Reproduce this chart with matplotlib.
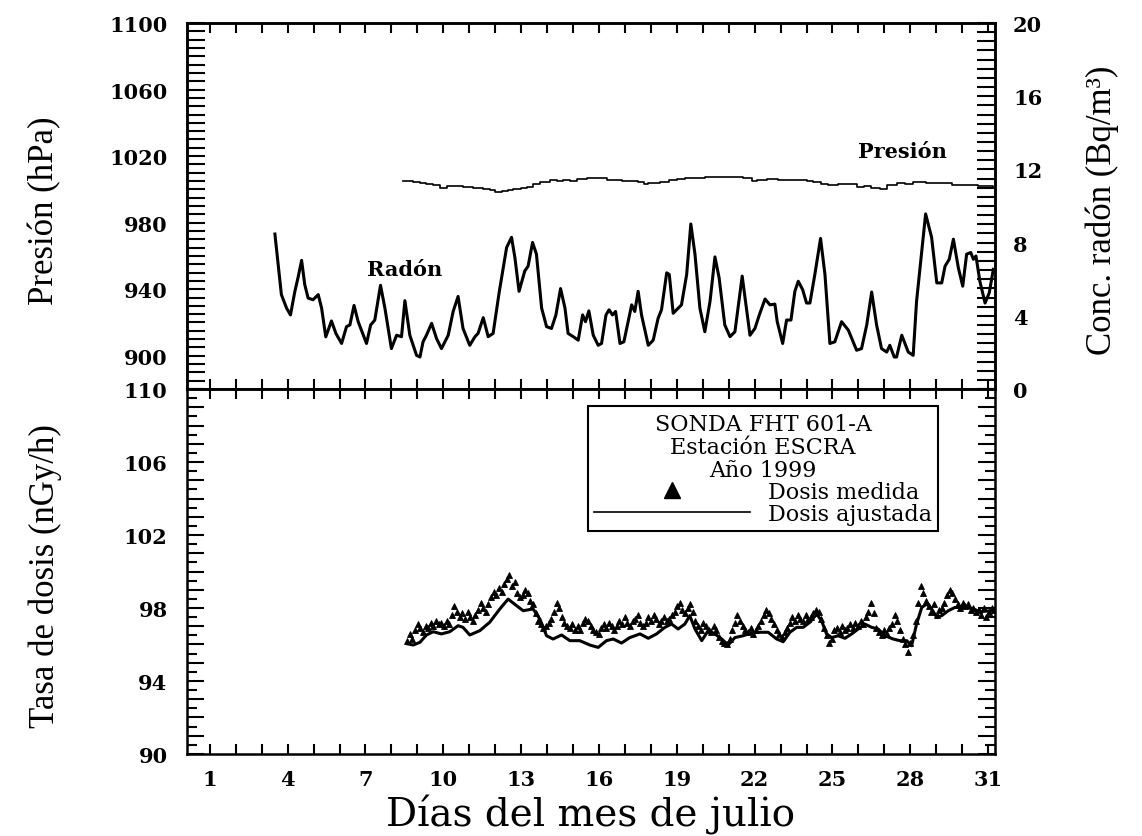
import matplotlib
matplotlib.use('Agg')
import matplotlib.pyplot as plt
from matplotlib.ticker import MultipleLocator, FuncFormatter
from matplotlib.lines import Line2D
import numpy as np

# Radon concentration (Bq/m3), right axis of the upper panel
radon_day = [3.51, 3.76, 3.96, 4.11, 4.28, 4.40, 4.54, 4.66, 4.79, 4.98,
             5.18, 5.31, 5.47, 5.69, 5.86, 6.08, 6.27, 6.40, 6.56, 6.72,
             7.04, 7.20, 7.36, 7.58, 7.75, 8.00, 8.20, 8.39, 8.52, 8.71,
             8.97, 9.10, 9.22, 9.35, 9.55, 9.74, 9.93, 10.19, 10.38, 10.57,
             10.76, 11.02, 11.22, 11.34, 11.54, 11.73, 11.92, 12.15, 12.44, 12.63,
             12.76, 12.92, 13.14, 13.27, 13.44, 13.59, 13.79, 13.98, 14.17, 14.34,
             14.52, 14.69, 14.81, 15.01, 15.20, 15.37, 15.48, 15.61, 15.78, 15.97,
             16.10, 16.27, 16.39, 16.52, 16.64, 16.81, 16.96, 17.26, 17.38, 17.51,
             17.64, 17.90, 18.09, 18.28, 18.41, 18.61, 18.71, 18.86, 19.18, 19.38,
             19.54, 19.70, 19.89, 20.08, 20.28, 20.47, 20.63, 20.85, 21.05, 21.24,
             21.52, 21.82, 22.01, 22.18, 22.40, 22.59, 22.78, 22.87, 23.08, 23.23,
             23.40, 23.55, 23.68, 23.85, 24.00, 24.13, 24.32, 24.54, 24.71, 24.90,
             25.09, 25.35, 25.61, 25.93, 26.12, 26.32, 26.51, 26.70, 26.89, 27.09,
             27.21, 27.38, 27.47, 27.67, 27.92, 28.11, 28.24, 28.44, 28.59, 28.82,
             29.02, 29.21, 29.34, 29.50, 29.66, 29.85, 30.02, 30.17, 30.33, 30.43,
             30.53, 30.68, 30.88, 31.04, 31.20]
radon_val = [8.47, 5.16, 4.42, 4.05, 5.34, 6.08, 7.03, 5.71, 4.97, 4.88,
             5.16, 4.42, 2.85, 3.72, 3.04, 2.49, 3.41, 3.50, 4.57, 3.68,
             2.49, 3.50, 3.77, 5.67, 4.42, 2.21, 2.94, 2.86, 4.83, 2.94,
             1.84, 1.75, 2.58, 2.94, 3.59, 2.76, 2.21, 2.94, 4.24, 5.06,
             3.31, 2.39, 2.86, 3.04, 3.90, 2.86, 3.04, 5.25, 7.73, 8.29,
             7.18, 5.34, 6.45, 6.72, 8.01, 7.37, 4.42, 3.41, 3.31, 4.05,
             5.49, 4.42, 3.04, 2.86, 2.67, 4.05, 3.68, 4.27, 2.94, 2.39,
             2.49, 4.05, 4.33, 4.05, 4.24, 2.49, 2.58, 4.60, 4.24, 5.34,
             4.05, 2.39, 2.67, 3.87, 4.33, 6.35, 6.26, 4.14, 4.60, 6.26,
             9.02, 7.37, 4.42, 3.13, 4.79, 7.22, 6.08, 3.50, 2.86, 3.13,
             6.17, 2.94, 3.31, 4.05, 4.92, 4.60, 4.64, 3.68, 2.49, 3.77,
             3.77, 5.34, 5.89, 5.43, 4.70, 4.70, 6.26, 8.23, 6.26, 2.49,
             2.58, 3.68, 3.22, 2.12, 2.21, 3.50, 5.30, 3.50, 2.21, 2.02,
             2.39, 1.75, 1.75, 2.94, 2.02, 1.84, 4.79, 7.55, 9.57, 8.29,
             5.80, 5.80, 6.72, 7.09, 8.19, 6.63, 5.62, 7.37, 7.46, 7.09,
             7.27, 5.89, 4.70, 5.25, 6.54]

# Atmospheric pressure (hPa), left axis of the upper panel
pres_day = [8.45, 8.84, 9.10, 9.35, 9.60, 9.87, 10.13, 10.45, 10.76, 11.15,
            11.54, 11.80, 11.99, 12.25, 12.50, 12.69, 13.00, 13.21, 13.45, 13.72,
            14.11, 14.40, 14.62, 14.88, 15.14, 15.55, 16.04, 16.30, 16.55, 16.90,
            17.19, 17.50, 17.72, 17.90, 18.35, 18.70, 18.99, 19.30, 19.63, 20.10,
            20.66, 21.10, 21.56, 21.88, 22.10, 22.46, 22.90, 23.20, 23.62, 24.00,
            24.26, 24.55, 24.84, 25.20, 25.55, 25.93, 26.20, 26.50, 26.83, 27.10,
            27.47, 27.80, 28.11, 28.60, 29.14, 29.60, 30.04, 30.60, 31.20]
pres_val = [1005.2, 1004.2, 1004.0, 1003.0, 1002.4, 1001.0, 1002.0, 1001.8, 1001.6, 1000.8,
            1000.2, 999.6, 998.5, 999.1, 999.8, 1000.5, 1001.0, 1001.6, 1003.4, 1004.6,
            1005.6, 1005.0, 1005.6, 1005.3, 1006.2, 1006.8, 1006.6, 1005.8, 1005.6, 1005.0,
            1005.2, 1004.4, 1003.4, 1003.6, 1004.2, 1005.4, 1006.2, 1006.6, 1007.1, 1007.4,
            1007.7, 1007.4, 1007.1, 1005.0, 1005.8, 1006.0, 1005.4, 1005.8, 1005.6, 1004.8,
            1004.2, 1003.0, 1002.6, 1003.4, 1003.2, 1001.6, 1001.8, 1000.9, 1000.5, 1002.4,
            1003.6, 1003.0, 1004.2, 1003.8, 1003.6, 1002.8, 1002.6, 1001.8, 1001.6]

# Fitted dose rate (nGy/h), lower panel
fit_day = [8.64, 8.84, 9.10, 9.35, 9.61, 9.93, 10.25, 10.57, 10.76, 11.02,
           11.41, 11.79, 12.18, 12.50, 12.82, 13.08, 13.46, 13.72, 13.98, 14.23,
           14.56, 14.88, 15.26, 15.65, 15.97, 16.29, 16.55, 16.87, 17.19, 17.58,
           17.90, 18.22, 18.54, 18.80, 19.05, 19.31, 19.50, 19.70, 19.96, 20.21,
           20.47, 20.73, 20.98, 21.24, 21.56, 21.88, 22.20, 22.52, 22.85, 23.10,
           23.36, 23.62, 23.87, 24.13, 24.39, 24.58, 24.77, 24.97, 25.22, 25.48,
           25.74, 25.99, 26.25, 26.51, 26.76, 27.02, 27.34, 27.60, 27.86, 28.05,
           28.24, 28.44, 28.63, 28.82, 29.02, 29.21, 29.46, 29.72, 30.17, 30.43,
           30.68, 31.13]
fit_val = [96.03, 95.97, 96.12, 96.52, 96.70, 96.58, 96.70, 97.03, 96.94, 96.52,
           96.76, 97.22, 97.95, 98.49, 98.13, 97.85, 97.95, 97.40, 96.48, 96.30,
           96.52, 96.21, 96.21, 95.97, 95.84, 96.21, 96.30, 96.08, 96.38, 96.58,
           96.34, 96.58, 96.94, 97.12, 96.85, 97.12, 97.58, 96.85, 96.21, 96.76,
           96.58, 96.30, 95.97, 96.38, 96.48, 96.63, 96.67, 96.67, 96.30, 96.15,
           96.67, 96.94, 96.94, 97.22, 97.67, 97.30, 96.58, 96.38, 96.48, 96.34,
           96.58, 96.85, 97.12, 96.94, 96.85, 96.48, 96.30, 96.21, 96.21, 95.93,
           97.12, 98.03, 98.22, 97.95, 97.49, 97.58, 97.85, 98.03, 98.03, 97.95,
           97.80, 97.85]

# Measured dose rate (nGy/h), sampled every 0.101 day from day 8.61
meas_day0 = 8.61
meas_step = 0.101
meas_val = [96.2, 96.6, 96.3, 96.8, 97.1, 96.9, 96.7, 97.0, 96.9, 97.2,
            97.0, 97.3, 97.1, 97.2, 97.0, 97.3, 97.1, 97.6, 98.1, 97.8,
            97.5, 97.7, 97.4, 97.8, 97.5, 97.3, 97.6, 97.9, 98.3, 98.0,
            97.8, 98.2, 98.6, 98.9, 98.7, 99.1, 98.9, 99.3, 99.6, 99.8,
            99.2, 99.4, 98.8, 98.6, 98.7, 99.0, 98.8, 98.4, 98.2, 97.7,
            97.3, 97.1, 96.9, 97.0, 97.2, 97.4, 97.8, 98.3, 98.0, 97.5,
            97.2, 97.0, 96.9, 97.1, 96.8, 97.0, 96.8, 97.2, 97.4, 97.3,
            97.0, 96.8, 96.7, 96.6, 96.9, 97.1, 96.9, 97.2, 97.0, 96.8,
            97.0, 97.3, 97.1, 97.5, 97.2, 97.0, 97.3, 97.4, 97.6, 97.2,
            97.0, 97.2, 97.5, 97.3, 97.6, 97.4, 97.1, 97.3, 97.5, 97.3,
            97.4, 97.6, 97.8, 98.1, 98.3, 97.9, 97.7, 98.0, 98.2, 97.8,
            97.3, 97.0, 96.8, 97.2, 97.0, 96.8, 96.7, 97.0, 96.8, 96.4,
            96.2, 96.1, 96.0, 96.3, 96.8, 97.2, 97.6, 97.3, 97.0, 96.8,
            96.7, 96.9, 96.6, 96.8, 97.0, 97.3, 97.6, 97.9, 97.7, 97.4,
            97.1, 96.8, 96.6, 96.4, 96.7, 96.9, 97.2, 97.5, 97.3, 97.6,
            97.4, 97.3, 97.6, 97.4, 97.5, 97.7, 97.9, 97.8, 97.4, 96.9,
            96.5, 96.1, 96.3, 96.8, 96.9, 96.7, 97.0, 96.8, 96.9, 97.1,
            96.9, 97.2, 97.0, 97.3, 97.1, 97.5, 97.8, 98.3, 97.7, 96.9,
            96.7, 96.5, 96.8, 96.6, 96.9, 97.1, 97.6, 97.3, 96.8, 96.3,
            96.0, 95.6, 96.1, 96.5, 97.3, 98.3, 99.2, 98.8, 98.4, 98.1,
            97.8, 98.2, 97.6, 97.9, 98.0, 98.3, 98.7, 99.0, 98.8, 98.5,
            98.2, 98.0, 98.3, 98.1, 98.2, 97.9, 98.0, 97.8, 97.9, 97.6,
            98.0, 97.5, 97.8, 98.0, 97.9]
meas_day = meas_day0 + meas_step * np.arange(len(meas_val))

plt.rcParams['font.family'] = ['DejaVu Serif']
plt.rcParams['font.weight'] = 'bold'

fig = plt.figure(figsize=(11.42, 8.37), dpi=100)
ax1 = fig.add_axes([0.1637, 0.534, 0.7075, 0.4373])
ax2 = fig.add_axes([0.1637, 0.098, 0.7075, 0.436])
ax1r = ax1.twinx()

xlim = (0.12, 31.26)
tick_font = 15

# upper panel: pressure (left) and radon (right)
ax1.plot(pres_day, pres_val, color='black', lw=1.2, drawstyle='steps-post')
ax1.set_xlim(*xlim)
ax1.set_ylim(880, 1100)
ax1r.plot(radon_day, radon_val, color='black', lw=2.2)
ax1r.set_ylim(0, 20)

ax1.xaxis.set_major_locator(MultipleLocator(1))
ax1.yaxis.set_major_locator(MultipleLocator(5))
ax1.yaxis.set_major_formatter(FuncFormatter(
    lambda v, p: f'{int(round(v))}' if round(v) >= 900 and int(round(v) - 900) % 40 == 0 else ''))
ax1.tick_params(axis='x', which='major', direction='in', length=7, width=1.5,
                top=True, bottom=True, labelbottom=False)
ax1.tick_params(axis='y', which='major', direction='in', length=13, width=1.5,
                labelsize=tick_font, pad=14)

ax1r.yaxis.set_major_locator(MultipleLocator(0.5))
ax1r.yaxis.set_major_formatter(FuncFormatter(
    lambda v, p: f'{int(round(v))}' if abs(v - round(v)) < 1e-6 and int(round(v)) % 4 == 0 else ''))
ax1r.tick_params(axis='y', which='major', direction='in', length=13, width=1.5,
                 labelsize=tick_font, pad=13)

ax1.set_ylabel('Presión (hPa)', fontfamily='Liberation Serif', fontweight='normal', fontsize=25)
ax1.yaxis.set_label_coords(-0.155, 0.49)
ax1r.set_ylabel('Conc. radón (Bq/m³)', fontfamily='Liberation Serif', fontweight='normal', fontsize=25)
ax1r.yaxis.set_label_coords(1.112, 0.49)

ax1.text(0.27, 0.328, 'Radón', transform=ax1.transAxes, ha='center', va='center', fontsize=15)
ax1.text(0.886, 0.65, 'Presión', transform=ax1.transAxes, ha='center', va='center', fontsize=15)

# lower panel: dose rate
ax2.plot(meas_day, meas_val, ls='none', marker='^', ms=5, color='black', mew=0.6)
ax2.plot(fit_day, fit_val, color='black', lw=2.2)
ax2.set_xlim(*xlim)
ax2.set_ylim(90, 110)

ax2.xaxis.set_major_locator(MultipleLocator(1))
ax2.xaxis.set_major_formatter(FuncFormatter(
    lambda v, p: f'{int(round(v))}' if int(round(v)) % 3 == 1 else ''))
ax2.yaxis.set_major_locator(MultipleLocator(1))
ax2.yaxis.set_minor_locator(MultipleLocator(0.5))
ax2.yaxis.set_major_formatter(FuncFormatter(
    lambda v, p: f'{int(round(v))}' if int(round(v) - 90) % 4 == 0 else ''))
ax2.tick_params(axis='x', which='major', direction='in', length=7, width=1.5,
                top=True, bottom=True, labelsize=tick_font, pad=11)
ax2.tick_params(axis='y', which='major', direction='in', length=12, width=1.5,
                left=True, right=True, labelsize=tick_font, pad=14)
ax2.tick_params(axis='y', which='minor', direction='in', length=7, width=1.5,
                left=True, right=True)

ax2.set_ylabel('Tasa de dosis (nGy/h)', fontfamily='Liberation Serif', fontweight='normal', fontsize=25)
ax2.yaxis.set_label_coords(-0.155, 0.49)
ax2.set_xlabel('Días del mes de julio', fontweight='normal', fontsize=28)
ax2.xaxis.set_label_coords(0.5, -0.11)

for a in (ax1, ax1r, ax2):
    for s in a.spines.values():
        s.set_linewidth(1.8)

handles = [Line2D([], [], ls='none', marker='^', ms=12, color='black'),
           Line2D([], [], color='black', lw=1.2)]
leg = ax2.legend(handles, ['Dosis medida', 'Dosis ajustada'],
                 title='SONDA FHT 601-A\nEstación ESCRA\nAño 1999',
                 loc='upper left', bbox_to_anchor=(0.496, 0.953), borderaxespad=0,
                 handlelength=7, handletextpad=0.8, labelspacing=0.0, borderpad=0.3,
                 frameon=True, fancybox=False, edgecolor='black', framealpha=1,
                 prop={'size': 16, 'weight': 'normal'},
                 title_fontproperties={'size': 16, 'weight': 'normal'})
leg.get_frame().set_linewidth(1.5)
leg.get_title().set_linespacing(1.05)
leg.get_title().set_multialignment('center')

fig.savefig('out.png', dpi=100)
